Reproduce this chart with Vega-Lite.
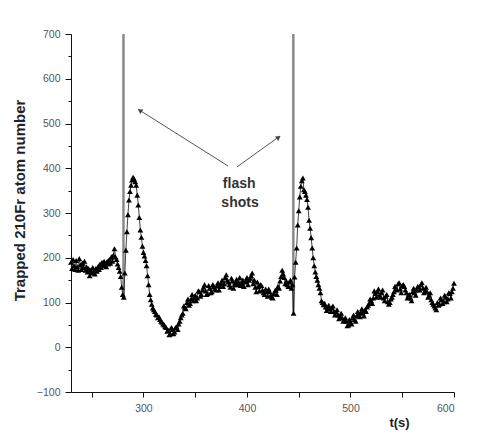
{
  "$schema": "https://vega.github.io/schema/vega-lite/v6.json",
  "width": 383,
  "height": 358,
  "autosize": "none",
  "padding": {"left": 71, "top": 34, "right": 40, "bottom": 43},
  "background": "white",
  "config": {"view": {"stroke": null}},
  "datasets": {
    "trace": [
      {"t":230,"v":190},{"t":231,"v":176},{"t":232,"v":196},{"t":233,"v":182},{"t":234,"v":174},{"t":235,"v":194},{"t":236,"v":180},{"t":237,"v":172},{"t":238,"v":198},{"t":239,"v":184},
      {"t":240,"v":174},{"t":241,"v":188},{"t":242,"v":178},{"t":243,"v":192},{"t":244,"v":172},{"t":245,"v":180},{"t":246,"v":168},{"t":247,"v":176},{"t":248,"v":160},{"t":249,"v":172},
      {"t":250,"v":166},{"t":251,"v":178},{"t":252,"v":168},{"t":253,"v":164},{"t":254,"v":176},{"t":255,"v":170},{"t":256,"v":180},{"t":257,"v":174},{"t":258,"v":186},{"t":259,"v":178},
      {"t":260,"v":190},{"t":261,"v":182},{"t":262,"v":192},{"t":263,"v":186},{"t":264,"v":180},{"t":265,"v":192},{"t":266,"v":186},{"t":267,"v":196},{"t":268,"v":188},{"t":269,"v":202},
      {"t":270,"v":192},{"t":271,"v":206},{"t":272,"v":220},{"t":273,"v":202},{"t":274,"v":196},{"t":275,"v":186},{"t":276,"v":178},{"t":277,"v":170},{"t":278,"v":158},{"t":279,"v":134},
      {"t":280,"v":118},{"t":281,"v":112},{"t":282,"v":166},{"t":283,"v":217},{"t":284,"v":258},{"t":285,"v":296},{"t":286,"v":329},{"t":287,"v":348},{"t":288,"v":362},{"t":289,"v":374},
      {"t":290,"v":380},{"t":291,"v":376},{"t":292,"v":370},{"t":293,"v":362},{"t":294,"v":340},{"t":295,"v":318},{"t":296,"v":290},{"t":297,"v":262},{"t":298,"v":246},{"t":299,"v":226},
      {"t":300,"v":212},{"t":301,"v":204},{"t":302,"v":194},{"t":303,"v":182},{"t":304,"v":160},{"t":305,"v":140},{"t":306,"v":118},{"t":307,"v":106},{"t":308,"v":96},{"t":309,"v":88},
      {"t":310,"v":84},{"t":311,"v":80},{"t":312,"v":74},{"t":313,"v":72},{"t":314,"v":66},{"t":315,"v":68},{"t":316,"v":62},{"t":317,"v":58},{"t":318,"v":56},{"t":319,"v":52},
      {"t":320,"v":50},{"t":321,"v":46},{"t":322,"v":44},{"t":323,"v":36},{"t":324,"v":38},{"t":325,"v":28},{"t":326,"v":30},{"t":327,"v":44},{"t":328,"v":40},{"t":329,"v":30},
      {"t":330,"v":34},{"t":331,"v":44},{"t":332,"v":46},{"t":333,"v":40},{"t":334,"v":52},{"t":335,"v":58},{"t":336,"v":66},{"t":337,"v":72},{"t":338,"v":76},{"t":339,"v":92},
      {"t":340,"v":88},{"t":341,"v":86},{"t":342,"v":100},{"t":343,"v":108},{"t":344,"v":94},{"t":345,"v":98},{"t":346,"v":108},{"t":347,"v":118},{"t":348,"v":104},{"t":349,"v":110},
      {"t":350,"v":116},{"t":351,"v":104},{"t":352,"v":110},{"t":353,"v":126},{"t":354,"v":124},{"t":355,"v":114},{"t":356,"v":118},{"t":357,"v":128},{"t":358,"v":134},{"t":359,"v":140},
      {"t":360,"v":126},{"t":361,"v":118},{"t":362,"v":120},{"t":363,"v":138},{"t":364,"v":132},{"t":365,"v":122},{"t":366,"v":124},{"t":367,"v":140},{"t":368,"v":136},{"t":369,"v":130},
      {"t":370,"v":128},{"t":371,"v":138},{"t":372,"v":144},{"t":373,"v":128},{"t":374,"v":136},{"t":375,"v":142},{"t":376,"v":150},{"t":377,"v":136},{"t":378,"v":142},{"t":379,"v":156},
      {"t":380,"v":162},{"t":381,"v":150},{"t":382,"v":146},{"t":383,"v":140},{"t":384,"v":134},{"t":385,"v":154},{"t":386,"v":148},{"t":387,"v":132},{"t":388,"v":140},{"t":389,"v":146},
      {"t":390,"v":152},{"t":391,"v":140},{"t":392,"v":144},{"t":393,"v":156},{"t":394,"v":138},{"t":395,"v":142},{"t":396,"v":150},{"t":397,"v":136},{"t":398,"v":146},{"t":399,"v":148},
      {"t":400,"v":156},{"t":401,"v":140},{"t":402,"v":150},{"t":403,"v":154},{"t":404,"v":160},{"t":405,"v":166},{"t":406,"v":142},{"t":407,"v":150},{"t":408,"v":134},{"t":409,"v":124},
      {"t":410,"v":146},{"t":411,"v":136},{"t":412,"v":126},{"t":413,"v":140},{"t":414,"v":138},{"t":415,"v":128},{"t":416,"v":122},{"t":417,"v":118},{"t":418,"v":130},{"t":419,"v":124},
      {"t":420,"v":114},{"t":421,"v":130},{"t":422,"v":124},{"t":423,"v":116},{"t":424,"v":112},{"t":425,"v":110},{"t":426,"v":120},{"t":427,"v":126},{"t":428,"v":128},{"t":429,"v":118},
      {"t":430,"v":136},{"t":431,"v":132},{"t":432,"v":148},{"t":433,"v":158},{"t":434,"v":172},{"t":435,"v":164},{"t":436,"v":156},{"t":437,"v":142},{"t":438,"v":148},{"t":439,"v":140},
      {"t":440,"v":136},{"t":441,"v":146},{"t":442,"v":150},{"t":443,"v":132},{"t":444,"v":140},{"t":445,"v":76},{"t":446,"v":157},
      {"t":447,"v":190},{"t":448,"v":222},{"t":449,"v":273},{"t":450,"v":305},{"t":451,"v":336},{"t":452,"v":360},{"t":453,"v":372},{"t":454,"v":378},{"t":455,"v":352},{"t":456,"v":348},
      {"t":457,"v":340},{"t":458,"v":330},{"t":459,"v":313},{"t":460,"v":284},{"t":461,"v":266},{"t":462,"v":245},{"t":463,"v":222},{"t":464,"v":200},{"t":465,"v":182},{"t":466,"v":168},
      {"t":467,"v":158},{"t":468,"v":150},{"t":469,"v":140},{"t":470,"v":132},{"t":471,"v":122},{"t":472,"v":104},{"t":473,"v":100},{"t":474,"v":95},{"t":475,"v":98},{"t":476,"v":90},
      {"t":477,"v":82},{"t":478,"v":88},{"t":479,"v":94},{"t":480,"v":86},{"t":481,"v":80},{"t":482,"v":88},{"t":483,"v":92},{"t":484,"v":80},{"t":485,"v":72},{"t":486,"v":78},
      {"t":487,"v":84},{"t":488,"v":72},{"t":489,"v":64},{"t":490,"v":70},{"t":491,"v":76},{"t":492,"v":66},{"t":493,"v":58},{"t":494,"v":60},{"t":495,"v":66},{"t":496,"v":58},
      {"t":497,"v":48},{"t":498,"v":50},{"t":499,"v":62},{"t":500,"v":56},{"t":501,"v":52},{"t":502,"v":66},{"t":503,"v":72},{"t":504,"v":62},{"t":505,"v":58},{"t":506,"v":70},
      {"t":507,"v":80},{"t":508,"v":74},{"t":509,"v":68},{"t":510,"v":78},{"t":511,"v":86},{"t":512,"v":76},{"t":513,"v":70},{"t":514,"v":84},{"t":515,"v":80},{"t":516,"v":90},
      {"t":517,"v":94},{"t":518,"v":98},{"t":519,"v":108},{"t":520,"v":104},{"t":521,"v":98},{"t":522,"v":110},{"t":523,"v":126},{"t":524,"v":120},{"t":525,"v":112},{"t":526,"v":124},
      {"t":527,"v":130},{"t":528,"v":116},{"t":529,"v":112},{"t":530,"v":122},{"t":531,"v":128},{"t":532,"v":110},{"t":533,"v":104},{"t":534,"v":114},{"t":535,"v":118},{"t":536,"v":102},
      {"t":537,"v":96},{"t":538,"v":100},{"t":539,"v":108},{"t":540,"v":112},{"t":541,"v":118},{"t":542,"v":124},{"t":543,"v":136},{"t":544,"v":132},{"t":545,"v":128},{"t":546,"v":142},
      {"t":547,"v":144},{"t":548,"v":130},{"t":549,"v":122},{"t":550,"v":138},{"t":551,"v":140},{"t":552,"v":136},{"t":553,"v":128},{"t":554,"v":122},{"t":555,"v":110},{"t":556,"v":116},
      {"t":557,"v":118},{"t":558,"v":110},{"t":559,"v":104},{"t":560,"v":124},{"t":561,"v":132},{"t":562,"v":122},{"t":563,"v":116},{"t":564,"v":128},{"t":565,"v":136},{"t":566,"v":134},
      {"t":567,"v":128},{"t":568,"v":140},{"t":569,"v":144},{"t":570,"v":132},{"t":571,"v":122},{"t":572,"v":126},{"t":573,"v":134},{"t":574,"v":124},{"t":575,"v":112},{"t":576,"v":116},
      {"t":577,"v":122},{"t":578,"v":106},{"t":579,"v":100},{"t":580,"v":96},{"t":581,"v":92},{"t":582,"v":88},{"t":583,"v":84},{"t":584,"v":100},{"t":585,"v":94},{"t":586,"v":96},
      {"t":587,"v":110},{"t":588,"v":106},{"t":589,"v":98},{"t":590,"v":102},{"t":591,"v":116},{"t":592,"v":112},{"t":593,"v":102},{"t":594,"v":108},{"t":595,"v":122},{"t":596,"v":120},
      {"t":597,"v":110},{"t":598,"v":124},{"t":599,"v":132},{"t":600,"v":143}
    ],
    "flash": [{"t":280.7,"v":112,"top":700},{"t":444.8,"v":72,"top":700}],
    "arrows": [{"id":"L","t":381.7,"v":405,"t2":294.7,"v2":532},{"id":"R","t":390.4,"v":403,"t2":431.9,"v2":472}],
    "heads": [{"id":"L","t":296.5,"v":529},{"id":"R","t":430.5,"v":469}],
    "labels": [{"t":392.5,"v":365,"label":"flash"},{"t":393.3,"v":322,"label":"shots"}]
  },
  "encoding": {
    "x": {
      "field": "t", "type": "quantitative",
      "scale": {"domain": [230, 600], "nice": false, "zero": false},
      "axis": {
        "title": "t(s)", "grid": false,
        "values": [250, 300, 350, 400, 450, 500, 550, 600],
        "labelExpr": "datum.value % 100 === 0 ? datum.label : ''",
        "tickSize": 5, "tickColor": "#111", "domainColor": "#111",
        "labelColor": "#555", "labelFont": "Liberation Sans", "labelFontSize": 10.5, "labelPadding": 6,
        "titleFont": "Liberation Sans", "titleFontWeight": "bold", "titleFontSize": 13, "titleColor": "#222",
        "titleX": 328, "titleY": 30, "titleAlign": "center", "titleBaseline": "middle"
      }
    },
    "y": {
      "field": "v", "type": "quantitative",
      "scale": {"domain": [-100, 700], "nice": false, "zero": false},
      "axis": {
        "title": "Trapped 210Fr atom number", "grid": false,
        "values": [-100, -50, 0, 50, 100, 150, 200, 250, 300, 350, 400, 450, 500, 550, 600, 650, 700],
        "labelExpr": "datum.value % 100 === 0 ? datum.label : ''",
        "tickSize": {"condition": {"test": "datum.value % 100 === 0", "value": 6}, "value": 3},
        "tickColor": "#111", "domainColor": "#111",
        "labelColor": "#555", "labelFont": "Liberation Sans", "labelFontSize": 10.5, "labelPadding": 5,
        "titleFont": "Liberation Sans", "titleFontWeight": "bold", "titleFontSize": 15, "titleColor": "#222",
        "titleX": -52, "titleY": 166, "titleAlign": "center", "titleBaseline": "middle", "titleAngle": -90
      }
    }
  },
  "layer": [
    {
      "data": {"name": "flash"},
      "mark": {"type": "rule", "color": "#8a8a8a", "strokeWidth": 2.5},
      "encoding": {"y2": {"field": "top"}}
    },
    {
      "data": {"name": "trace"},
      "mark": {"type": "line", "color": "#111", "strokeWidth": 0.8},
      "encoding": {}
    },
    {
      "data": {"name": "trace"},
      "mark": {"type": "point", "shape": "triangle-up", "filled": true, "color": "#000", "size": 34, "opacity": 1},
      "encoding": {}
    },
    {
      "data": {"name": "arrows"},
      "mark": {"type": "rule", "color": "#555", "strokeWidth": 1},
      "encoding": {"x2": {"field": "t2"}, "y2": {"field": "v2"}}
    },
    {
      "data": {"name": "heads"},
      "transform": [{"filter": "datum.id === 'L'"}],
      "mark": {"type": "point", "shape": "triangle-up", "filled": true, "color": "#444", "size": 30, "angle": 302, "opacity": 1},
      "encoding": {}
    },
    {
      "data": {"name": "heads"},
      "transform": [{"filter": "datum.id === 'R'"}],
      "mark": {"type": "point", "shape": "triangle-up", "filled": true, "color": "#444", "size": 30, "angle": 54, "opacity": 1},
      "encoding": {}
    },
    {
      "data": {"name": "labels"},
      "mark": {"type": "text", "font": "Liberation Sans", "fontWeight": "bold", "fontSize": 14, "color": "#333", "align": "center", "baseline": "middle"},
      "encoding": {"text": {"field": "label"}}
    }
  ]
}
